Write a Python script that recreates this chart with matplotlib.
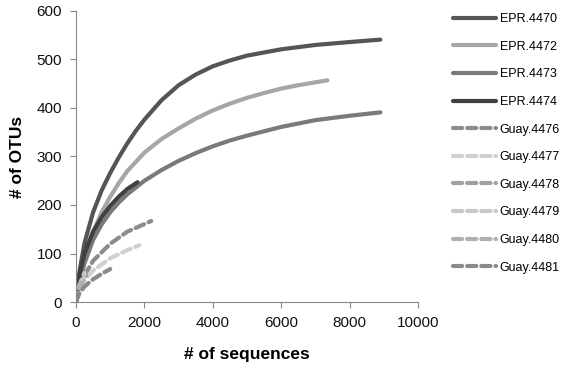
import matplotlib
matplotlib.use("Agg")
import matplotlib.pyplot as plt

plt.rcParams['font.family'] = ['Liberation Sans', 'DejaVu Sans']

# rarefaction curves (# of sequences vs # of OTUs)
names = ["EPR.4470", "EPR.4472", "EPR.4473", "EPR.4474",
         "Guay.4476", "Guay.4477", "Guay.4478", "Guay.4479", "Guay.4480", "Guay.4481"]

seq_4470 = [0, 100, 250, 500, 750, 1000, 1250, 1500, 1750, 2000, 2500, 3000, 3500, 4000,
            4500, 5000, 6000, 7000, 8000, 8900]
otu_4470 = [0, 62, 122, 185, 230, 266, 298, 327, 353, 376, 416, 447, 469, 486,
            498, 508, 521, 530, 536, 541]

seq_4472 = [0, 100, 250, 500, 750, 1000, 1250, 1500, 2000, 2500, 3000, 3500, 4000,
            4500, 5000, 5500, 6000, 6500, 7000, 7350]
otu_4472 = [0, 45, 90, 145, 185, 217, 245, 270, 308, 336, 358, 378, 395,
            409, 421, 431, 440, 447, 453, 457]

seq_4473 = [0, 100, 250, 500, 750, 1000, 1250, 1500, 1750, 2000, 2500, 3000, 3500, 4000,
            4500, 5000, 6000, 7000, 8000, 8900]
otu_4473 = [0, 40, 80, 128, 160, 185, 205, 222, 236, 250, 272, 291, 307, 321,
            333, 343, 361, 375, 384, 391]

seq_4474 = [0, 100, 250, 500, 750, 1000, 1250, 1500, 1800]
otu_4474 = [0, 55, 100, 145, 175, 198, 217, 233, 247]

seq_4476 = [0, 100, 250, 500, 1000, 1500, 2200]
otu_4476 = [0, 30, 55, 85, 120, 145, 167]

seq_4477 = [0, 100, 250, 500, 1000, 1500, 1850]
otu_4477 = [0, 25, 45, 65, 90, 107, 117]

seq_4478 = [0, 100, 200, 300]
otu_4478 = [0, 30, 45, 55]

seq_4479 = [0, 100, 250]
otu_4479 = [0, 35, 60]

seq_4480 = [0, 50, 150]
otu_4480 = [0, 20, 40]

seq_4481 = [0, 100, 250, 500, 750, 1000]
otu_4481 = [0, 18, 32, 47, 58, 68]

series = [(seq_4470, otu_4470), (seq_4472, otu_4472), (seq_4473, otu_4473), (seq_4474, otu_4474),
          (seq_4476, otu_4476), (seq_4477, otu_4477), (seq_4478, otu_4478), (seq_4479, otu_4479),
          (seq_4480, otu_4480), (seq_4481, otu_4481)]
colors = ["#555555", "#a6a6a6", "#7a7a7a", "#404040",
          "#8c8c8c", "#d0d0d0", "#a0a0a0", "#c8c8c8", "#b0b0b0", "#8a8a8a"]

fig = plt.figure(figsize=(5.7, 3.67), dpi=100)
ax = fig.add_axes([76 / 570, 65 / 367, 342 / 570, 291 / 367])

for name, (xs, ys), col in zip(names, series, colors):
    if name.startswith("EPR"):
        ax.plot(xs, ys, color=col, lw=3, solid_capstyle="round",
                solid_joinstyle="round", label=name)
    else:
        ax.plot(xs, ys, color=col, lw=3, dashes=(2.2, 1.2), dash_capstyle="round",
                dash_joinstyle="round", label=name)

ax.set_xlim(0, 10000)
ax.set_ylim(0, 600)
ax.set_xticks(range(0, 10001, 2000))
ax.set_yticks(range(0, 601, 100))
for s in ["top", "right"]:
    ax.spines[s].set_visible(False)
for s in ["left", "bottom"]:
    ax.spines[s].set_color("#888888")
ax.tick_params(colors="#888888", labelcolor="#111111", labelsize=11, length=4,
               direction="out", pad=6)

ax.set_xlabel("# of sequences", fontsize=12.5, fontweight="bold", labelpad=12)
ax.set_ylabel("# of OTUs", fontsize=12.5, fontweight="bold", labelpad=8)

fig.legend(loc="upper left", bbox_to_anchor=(448 / 570, 1 - 8 / 367), frameon=False,
           fontsize=9, handlelength=3.4, handletextpad=0.35, labelspacing=1.25,
           borderaxespad=0)

fig.savefig("out.png", dpi=100)
